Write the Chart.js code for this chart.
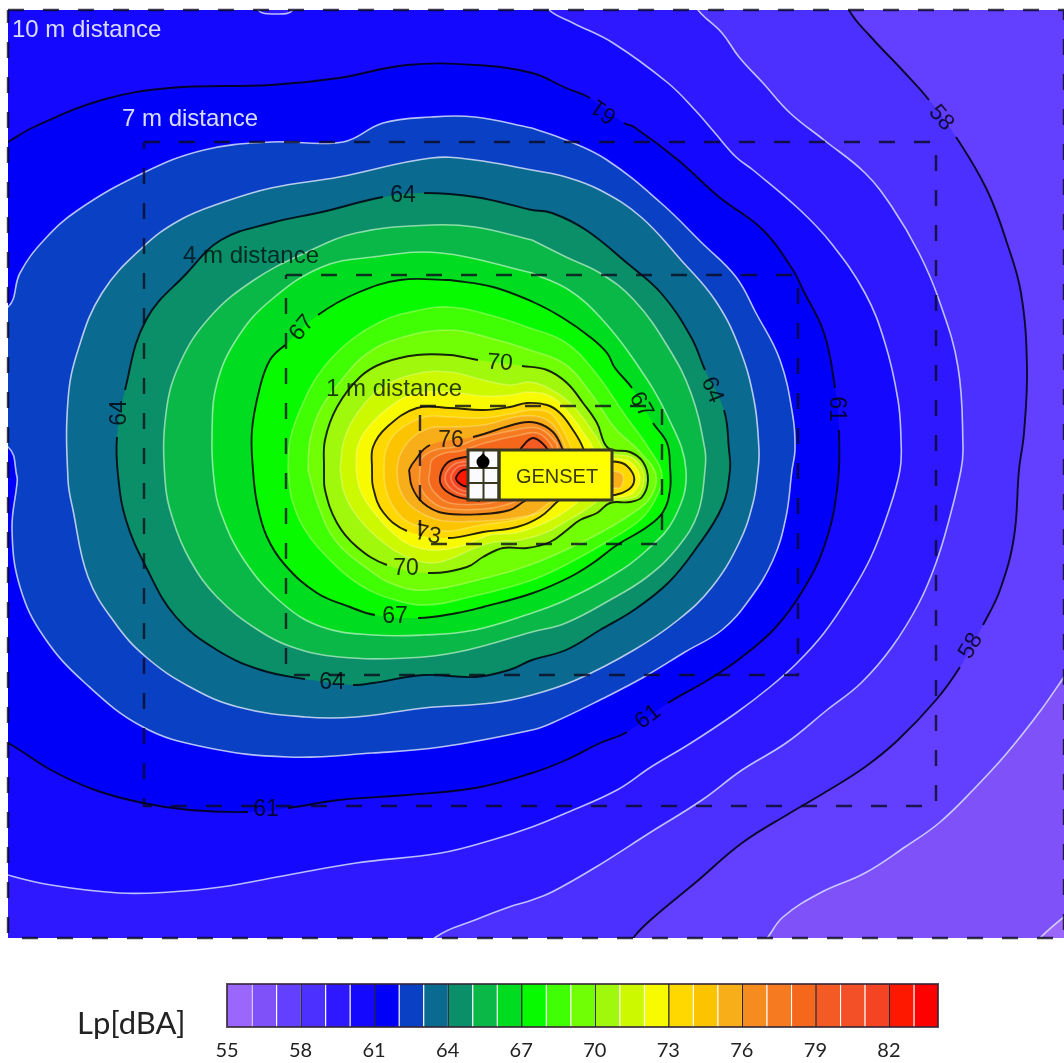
<!DOCTYPE html>
<html lang="en">
<head>
<meta charset="UTF-8">
<title>Genset noise map</title>
<script src="https://cdn.jsdelivr.net/npm/chart.js"></script>
<style>
  body { margin: 0; background: #fff; width: 1064px; height: 1063px; overflow: hidden; position: relative; }
  canvas { position: absolute; left: 0; filter: blur(0.6px); }
  #map { top: 0; }
  #bar { top: 975px; }
  #unit { position: absolute; left: 77px; top: 1003px; font: 31px Lato, sans-serif; color: #222; filter: blur(0.4px); }
</style>
</head>
<body>
<canvas id="map" width="1064" height="945"></canvas>
<canvas id="bar" width="1064" height="88"></canvas>
<div id="unit">Lp[dBA]</div>
<script>
// iso-dB lines, one list per level (x, y on the survey grid)
const lp55 = [[-40,-40],[1100,-40],[1100,1000],[-40,1000]];
const lp56 = [[1030,950],[1041,937],[1064,917],[1100,890],[1100,-40],[-40,-40],[-40,1000],[1030,1000]];
const lp57 = [[750,960],[768,937],[783,917],[820,893],[865,873],[905,847],[939,823],[973,790],[1007,753],[1041,710],[1064,677],[1090,640],[1100,-40],[-40,-40],[-40,1000],[750,1000]];
const lp58 = [[620,960],[634,937],[654,917],[695,883],[742,843],[790,813],[824,793],[865,767],[898,740],[936,700],[960,667],[983,625],[1000,590],[1014,537],[1019,470],[1024,433],[1027,367],[1021,293],[1007,243],[987,190],[956,137],[929,100],[905,73],[871,37],[849,10],[840,-20],[-40,-20],[-40,1000],[620,1000]];
const lp59 = [[420,960],[436,937],[475,920],[509,907],[532,900],[552,892],[596,867],[651,832],[702,800],[742,770],[786,743],[827,710],[861,683],[892,647],[919,603],[936,563],[949,520],[961,470],[963,447],[958,367],[939,300],[919,253],[892,207],[865,173],[824,140],[790,113],[763,83],[739,57],[722,33],[698,10],[680,-20],[-40,-20],[-40,1000],[420,1000]];
const lp60 = [[-40,860],[8,875],[51,885],[119,893],[170,892],[221,887],[288,875],[356,863],[441,853],[492,840],[532,827],[566,813],[617,790],[651,767],[691,743],[736,713],[770,687],[797,663],[824,633],[851,593],[871,557],[888,513],[900,470],[901,440],[898,400],[885,343],[865,293],[831,243],[800,210],[753,170],[736,157],[715,133],[695,110],[668,83],[613,43],[573,23],[549,10],[530,-15],[300,-15],[293,10],[275,14],[258,10],[250,-15],[-40,-15]];
const lp61 = [[-40,720],[8,743],[51,770],[95,790],[143,803],[190,810],[248,812],[288,808],[339,800],[407,795],[475,788],[532,773],[566,760],[600,743],[627,732],[668,703],[708,680],[742,657],[776,627],[803,590],[824,547],[837,490],[839,430],[835,388],[824,333],[803,290],[793,270],[763,230],[719,197],[678,160],[634,127],[624,123],[590,98],[566,88],[532,73],[475,65],[407,65],[339,78],[271,85],[170,88],[102,100],[34,127],[8,142],[-40,170]];
const lp62 = [[532,128],[475,117],[431,117],[383,123],[343,142],[271,142],[204,150],[143,173],[78,210],[44,240],[20,273],[8,307],[-40,330],[-40,430],[8,447],[17,477],[17,483],[12,530],[20,587],[44,637],[85,683],[143,727],[204,747],[288,757],[373,753],[441,747],[532,730],[552,723],[600,700],[644,677],[685,652],[722,630],[749,600],[773,560],[786,517],[792,470],[795,450],[793,417],[780,360],[756,313],[736,277],[702,243],[661,203],[607,160],[566,140],[532,128]];
const lp63 = [[532,170],[475,160],[431,158],[339,177],[271,188],[221,203],[180,220],[143,247],[102,293],[78,350],[68,400],[68,480],[73,510],[88,577],[115,623],[146,657],[190,687],[238,707],[305,717],[356,717],[424,708],[492,703],[532,695],[576,680],[634,650],[678,620],[712,587],[739,543],[753,503],[758,470],[759,450],[754,400],[739,347],[715,300],[681,260],[641,217],[600,190],[566,177],[532,170]];
const lp64 = [[532,210],[475,197],[424,193],[383,197],[322,212],[271,223],[221,240],[187,273],[146,320],[125,390],[117,437],[118,475],[126,520],[146,567],[176,617],[217,650],[261,670],[305,679],[353,685],[373,683],[424,675],[475,677],[509,670],[532,660],[566,650],[600,630],[634,610],[668,583],[695,550],[722,507],[730,470],[729,450],[724,410],[705,370],[691,337],[661,293],[627,263],[586,230],[552,213],[532,210]];
const lp65 = [[532,240],[475,227],[431,225],[356,233],[305,253],[254,280],[210,317],[180,363],[166,413],[165,480],[173,520],[190,560],[217,597],[258,630],[292,647],[339,657],[407,658],[458,652],[532,632],[566,623],[610,600],[647,577],[678,547],[698,513],[705,470],[705,450],[691,393],[668,347],[634,300],[600,273],[566,257],[532,240]];
const lp66 = [[532,273],[441,253],[373,257],[322,267],[271,300],[238,337],[217,383],[212,433],[214,480],[221,513],[244,560],[282,603],[322,627],[373,635],[424,635],[475,630],[532,613],[566,600],[610,577],[647,550],[675,517],[686,470],[668,417],[634,360],[600,317],[569,290],[532,273]];
const lp67 = [[450,280],[493,287],[533,302],[563,318],[590,337],[607,353],[615,368],[632,388],[653,423],[667,443],[670,467],[670,490],[663,512],[647,527],[617,545],[593,563],[570,577],[533,593],[483,607],[457,613],[418,618],[375,615],[350,607],[317,593],[285,565],[267,537],[257,503],[253,470],[252,430],[260,387],[270,360],[285,345],[318,315],[357,293],[400,280],[450,280]];
const lp68 = [[288,470],[290,440],[300,410],[318,375],[345,345],[380,322],[415,311],[450,307],[490,315],[530,328],[565,342],[595,372],[625,415],[650,450],[662,475],[655,500],[640,520],[610,540],[575,560],[540,577],[510,587],[470,597],[428,605],[395,600],[360,585],[330,560],[305,530],[292,500],[288,470]];
const lp69 = [[308,470],[310,440],[320,410],[340,382],[365,355],[400,338],[450,330],[490,338],[530,350],[565,364],[590,392],[615,428],[640,452],[656,475],[650,498],[630,515],[600,533],[570,548],[530,565],[490,577],[428,590],[395,585],[365,567],[335,540],[318,505],[308,470]];
const lp70 = [[324,470],[325,440],[337,407],[360,377],[383,363],[417,355],[450,355],[478,360],[522,366],[547,370],[567,383],[583,403],[597,423],[608,448],[630,452],[643,462],[648,480],[642,497],[630,502],[610,503],[597,513],[580,520],[567,530],[550,542],[527,548],[503,548],[483,557],[467,567],[428,573],[387,565],[357,547],[337,523],[325,490],[324,470]];
const lp71 = [[340,470],[344,440],[358,412],[382,388],[415,374],[450,372],[483,380],[510,385],[530,382],[552,390],[572,405],[590,428],[603,452],[600,480],[600,497],[585,510],[565,522],[545,533],[520,540],[495,542],[475,548],[450,559],[430,563],[405,556],[385,544],[360,520],[345,495],[340,470]];
const lp72 = [[356,470],[358,445],[370,425],[395,403],[418,393],[450,392],[483,396],[510,395],[530,392],[552,397],[568,412],[583,432],[594,452],[592,485],[580,500],[560,515],[540,525],[515,533],[490,535],[465,545],[440,550],[415,547],[395,535],[372,510],[360,490],[356,470]];
const lp73 = [[372,470],[373,447],[387,427],[417,408],[450,408],[483,410],[510,407],[527,403],[547,405],[560,413],[573,430],[583,448],[590,475],[557,502],[540,517],[517,527],[483,532],[448,538],[407,531],[383,512],[373,487],[372,470]];
const lp74 = [[384,470],[386,450],[398,431],[425,417],[450,417],[483,418],[510,414],[530,410],[548,412],[558,422],[570,445],[578,475],[550,507],[530,516],[510,521],[480,525],[450,531],[425,528],[405,520],[391,503],[385,485],[384,470]];
const lp75 = [[397,470],[400,455],[412,438],[430,428],[450,427],[483,425],[515,417],[535,416],[550,422],[560,435],[568,455],[572,475],[540,510],[515,518],[480,521],[445,521],[425,515],[408,503],[399,487],[397,470]];
const lp76 = [[409,470],[413,463],[430,445],[473,437],[520,423],[537,423],[553,432],[562,448],[570,475],[523,502],[510,510],[483,514],[443,513],[423,503],[412,487],[409,470]];
const lp77 = [[420,470],[422,458],[435,450],[455,447],[480,438],[520,429],[537,428],[550,436],[557,450],[520,498],[505,505],[483,509],[445,508],[428,498],[420,485],[420,470]];
const lp78 = [[430,470],[432,460],[445,453],[460,451],[485,443],[520,435],[537,433],[548,441],[552,452],[515,494],[500,500],[483,504],[450,503],[435,493],[429,482],[430,470]];
const lp79 = [[480,456],[460,458],[447,463],[440,477],[443,488],[455,496],[467,499],[480,501]];
const lp80 = [[475,461],[457,463],[448,470],[445,478],[449,487],[458,493],[475,497]];
const lp81 = [[475,465],[460,466],[453,472],[451,478],[454,485],[461,490],[475,493]];
const lp82 = [[475,469],[463,470],[458,474],[456,479],[459,483],[464,486],[475,488]];
// second source on the right of the genset and the small peak above it
const lp71b = [[600,455],[628,456],[640,465],[644,480],[638,495],[625,499],[600,500]];
const lp72b = [[600,458],[626,460],[636,468],[640,480],[633,493],[622,497],[600,497]];
const lp73b = [[600,461],[622,463],[632,472],[634,482],[628,490],[615,495],[600,495]];
const lp75b = [[605,470],[622,474],[621,487],[612,488],[605,488]];
const lp79b = [[518,455],[522,447],[533,438],[545,446],[550,455]];

const levels = [55,56,57,58,59,60,61,62,63,64,65,66,67,68,69,70,71,72,73,74,75,76,77,78,79,80,81,82,71,72,73,75,79];
const contours = [lp55,lp56,lp57,lp58,lp59,lp60,lp61,lp62,lp63,lp64,lp65,lp66,lp67,lp68,lp69,lp70,lp71,lp72,lp73,lp74,lp75,lp76,lp77,lp78,lp79,lp80,lp81,lp82,lp71b,lp72b,lp73b,lp75b,lp79b];

// colour bar: one colour per dB from 55 to 83
const scaleStart = 55;
const scaleEnd = 84;
const scaleTicks = [55,58,61,64,67,70,73,76,79,82];
const bandColours = ['#9a66fb','#7f52f9','#6340ff','#4c30ff','#2e18ff','#1408ff','#0000fa','#0a40c4','#0a6a90','#0a8f68','#0ab848','#00dc20','#08fa00','#40ff04','#70ff04','#a0f80c','#ccf800','#f8fa00','#ffd800','#fcc400','#f8ae18','#f68c20','#f57a20','#f5681c','#f45a24','#f45028','#f44424','#ff1800','#ff0000'];

// dB numbers written on the lines
const labelValues = [58,61,61,64,64,64,67,67,67,70,70,73,76,64,61,61,58];
const labelX = [941,604,836,403,712,120,641,302,395,500,406,428,451,332,648,266,971];
const labelY = [118,111,409,196,390,413,405,328,617,363,569,535,441,683,717,810,646];
const labelAngle = [50,215,90,0,68,-90,60,-50,0,4,0,12,0,0,-38,0,-60];

// distance boxes around the genset: left, right, top, bottom
const boxDistances = [1,4,7,10];
const boxLeft = [420,286,144,8];
const boxRight = [662,798,936,1064];
const boxTop = [406,275,142,10];
const boxBottom = [544,675,806,938];
const distanceNames = ['10 m distance','7 m distance','4 m distance','1 m distance'];
const distanceX = [12,122,183,326];
const distanceY = [30,119,256,389];
const distanceColours = ['rgba(235,238,255,0.92)','rgba(235,238,255,0.92)','rgba(0,20,20,0.82)','rgba(10,30,0,0.85)'];

function isMajor(level) { return (level - 55) % 3 === 0; }

function lineColour(level) {
  if (level === 55) return 'transparent';
  if (isMajor(level)) return 'rgba(0,0,10,0.85)';
  if (level < 64) return 'rgba(225,232,255,0.8)';
  if (level < 67) return 'rgba(225,255,225,0.6)';
  return 'rgba(255,255,200,0.3)';
}

function inLabelGap(level, p0, p1) {
  const mx = (p0.parsed.x + p1.parsed.x) / 2;
  const my = (p0.parsed.y + p1.parsed.y) / 2;
  return labelValues.some((v, i) => v === level && Math.hypot(labelX[i] - mx, labelY[i] - my) < 14);
}

const toXY = pts => pts.map(p => ({ x: p[0], y: p[1] }));

const datasets = [];
contours.forEach((pts, i) => {
  const level = levels[i];
  datasets.push({
    data: toXY(pts), fill: 'shape', backgroundColor: bandColours[level - scaleStart],
    borderWidth: 0, borderColor: 'transparent', order: 100 - level,
    tension: level === 55 ? 0 : 0.4
  });
  datasets.push({
    data: toXY(pts), fill: false, borderColor: lineColour(level),
    borderWidth: isMajor(level) ? 1.9 : 1.6, order: 5, tension: 0.4,
    segment: { borderColor: c => inLabelGap(level, c.p0, c.p1) ? 'rgba(0,0,0,0)' : undefined }
  });
});
boxDistances.forEach((d, i) => {
  const l = boxLeft[i], r = boxRight[i], t = boxTop[i], b = boxBottom[i];
  datasets.push({
    data: [{x:l,y:t},{x:r,y:t},{x:r,y:b},{x:l,y:b},{x:l,y:t}],
    fill: false, tension: 0, borderColor: 'rgba(10,10,30,0.8)', borderWidth: 2.4,
    borderDash: [16,19], clip: 6, order: 1
  });
});

// genset block, number labels and distance captions go on top of the lines
const mapText = {
  id: 'mapText',
  afterDatasetsDraw(chart) {
    const ctx = chart.ctx;
    const X = v => chart.scales.x.getPixelForValue(v);
    const Y = v => chart.scales.y.getPixelForValue(v);
    ctx.save();
    ctx.textBaseline = 'middle';

    ctx.textAlign = 'center';
    ctx.font = '23px "Liberation Sans"';
    ctx.fillStyle = 'rgba(0,0,10,0.8)';
    labelValues.forEach((v, i) => {
      ctx.save();
      ctx.translate(X(labelX[i]), Y(labelY[i]));
      ctx.rotate(labelAngle[i] * Math.PI / 180);
      ctx.fillText(String(v), 0, 0);
      ctx.restore();
    });

    // genset
    ctx.fillStyle = '#ffff00';
    ctx.fillRect(X(468), Y(450), X(612) - X(468), Y(500) - Y(450));
    ctx.fillStyle = '#fbfbff';
    ctx.fillRect(X(468), Y(450), X(499) - X(468), Y(500) - Y(450));
    ctx.strokeStyle = '#3a3820';
    ctx.lineWidth = 2;
    [483.5].forEach(v => { ctx.beginPath(); ctx.moveTo(X(v), Y(450)); ctx.lineTo(X(v), Y(500)); ctx.stroke(); });
    [468,483].forEach(v => { ctx.beginPath(); ctx.moveTo(X(468), Y(v)); ctx.lineTo(X(499), Y(v)); ctx.stroke(); });
    ctx.fillStyle = '#000';
    ctx.beginPath(); ctx.arc(X(483), Y(462), 6.5, 0, Math.PI * 2); ctx.fill();
    ctx.beginPath(); ctx.moveTo(X(477), Y(460)); ctx.lineTo(X(483), Y(453)); ctx.lineTo(X(489), Y(460)); ctx.fill();
    ctx.lineWidth = 3;
    ctx.strokeRect(X(468), Y(450), X(612) - X(468), Y(500) - Y(450));
    ctx.lineWidth = 3.5;
    ctx.beginPath(); ctx.moveTo(X(499), Y(450)); ctx.lineTo(X(499), Y(500)); ctx.stroke();
    ctx.font = '20px "Liberation Sans"';
    ctx.fillStyle = '#3a3a10';
    ctx.fillText('GENSET', X(557), Y(477));

    ctx.textAlign = 'left';
    ctx.font = '24px "Liberation Sans"';
    distanceNames.forEach((name, i) => {
      ctx.fillStyle = distanceColours[i];
      ctx.fillText(name, X(distanceX[i]), Y(distanceY[i]));
    });
    ctx.restore();
  }
};

Chart.defaults.devicePixelRatio = 1;

new Chart(document.getElementById('map'), {
  type: 'line',
  data: { datasets: datasets },
  plugins: [mapText],
  options: {
    responsive: false,
    animation: false,
    devicePixelRatio: 1,
    layout: { padding: { left: 8, top: 10, right: 0, bottom: 7 } },
    elements: { point: { radius: 0 } },
    plugins: { legend: { display: false }, tooltip: { enabled: false } },
    scales: {
      x: { type: 'linear', min: 8, max: 1064, display: false },
      y: { type: 'linear', min: 10, max: 938, reverse: true, display: false }
    }
  }
});

// colour bar
const barFrame = {
  id: 'barFrame',
  afterDatasetsDraw(chart) {
    const a = chart.chartArea;
    chart.ctx.save();
    chart.ctx.strokeStyle = 'rgba(50,35,50,0.8)';
    chart.ctx.lineWidth = 2;
    chart.ctx.strokeRect(a.left, a.top, a.right - a.left, a.bottom - a.top);
    chart.ctx.restore();
  }
};

const barSets = bandColours.map((c, i) => {
  const level = scaleStart + i;
  return {
    data: [[level, level + 1]], backgroundColor: c, grouped: false,
    borderColor: isMajor(level) ? 'rgba(0,0,10,0.85)' : 'rgba(255,255,255,0.5)',
    borderWidth: i === 0 ? 0 : { left: 1.5, right: 0, top: 0, bottom: 0 },
    borderSkipped: false, barPercentage: 1, categoryPercentage: 1
  };
});

new Chart(document.getElementById('bar'), {
  type: 'bar',
  data: { labels: ['Lp'], datasets: barSets },
  plugins: [barFrame],
  options: {
    indexAxis: 'y',
    responsive: false,
    animation: false,
    devicePixelRatio: 1,
    layout: { padding: { left: 227, right: 126, top: 9, bottom: 0 } },
    plugins: { legend: { display: false }, tooltip: { enabled: false } },
    scales: {
      y: { display: false },
      x: {
        type: 'linear', min: scaleStart, max: scaleEnd,
        grid: { display: false }, border: { display: false },
        afterBuildTicks: s => { s.ticks = scaleTicks.map(v => ({ value: v })); },
        afterFit: s => { s.height = 36; },
        ticks: { autoSkip: false, maxRotation: 0, padding: 4, color: '#222', font: { family: 'Lato', size: 20 } }
      }
    }
  }
});
</script>
</body>
</html>
